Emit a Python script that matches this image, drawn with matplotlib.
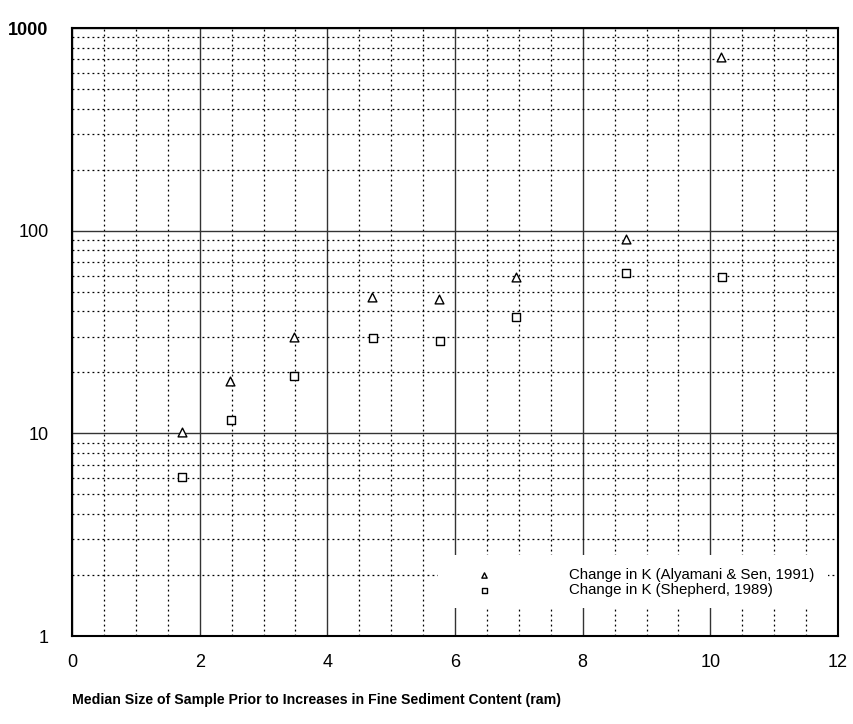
import numpy as np
import matplotlib
matplotlib.use("Agg")
import matplotlib.pyplot as plt
from matplotlib.patches import Rectangle
from matplotlib.ticker import FixedLocator, NullFormatter, LogLocator

# data
x_alyamani = [1.73, 2.48, 3.47, 4.7, 5.75, 6.95, 8.68, 10.17]
k_alyamani = [10.1, 18.2, 30.0, 47.0, 46.0, 59.0, 91.0, 720.0]

x_shepherd = [1.73, 2.49, 3.47, 4.72, 5.77, 6.95, 8.68, 10.19]
k_shepherd = [6.1, 11.6, 19.1, 29.4, 28.7, 37.3, 62.0, 59.3]

x_ticks = [0, 2, 4, 6, 8, 10, 12]
y_ticks = [1, 10, 100, 1000]
y_labels = ["1", "10", "100", "1000"]

plt.rcParams['font.family'] = ['Liberation Sans', 'DejaVu Sans']

fig = plt.figure(figsize=(8.54, 7.24), dpi=100)
ax = fig.add_axes([0.0843, 0.1215, 0.8970, 0.8398])

ax.set_yscale('log')
ax.set_xlim(0, 12)
ax.set_ylim(1, 1000)

# grid: solid majors, dotted minors
ax.xaxis.set_major_locator(FixedLocator(x_ticks))
ax.xaxis.set_minor_locator(FixedLocator(np.arange(0.5, 12, 0.5)))
ax.yaxis.set_major_locator(FixedLocator(y_ticks))
ax.yaxis.set_minor_locator(LogLocator(base=10, subs=np.arange(2, 10)))
ax.yaxis.set_minor_formatter(NullFormatter())

ax.grid(which='major', color='#333333', linewidth=1.0, linestyle='-')
ax.grid(which='minor', color='black', linewidth=0.9, linestyle=(0, (1.5, 2.5)))
ax.set_axisbelow(True)

ax.scatter(x_alyamani, k_alyamani, marker='^', s=40, facecolors='white',
           edgecolors='black', linewidths=1.0, zorder=3,
           label='Change in K (Alyamani & Sen, 1991)')
ax.scatter(x_shepherd, k_shepherd, marker='s', s=36, facecolors='white',
           edgecolors='black', linewidths=1.0, zorder=3,
           label='Change in K (Shepherd, 1989)')

ax.tick_params(which='both', length=0)
ax.tick_params(axis='x', pad=13, labelsize=13)
ax.tick_params(axis='y', pad=17, labelsize=13)
ax.set_xticklabels([str(t) for t in x_ticks])
ax.set_yticklabels(y_labels)
ax.get_yticklabels()[-1].set_fontweight('bold')

for sp in ax.spines.values():
    sp.set_linewidth(1.5)
    sp.set_color('black')

# white patch behind the legend hides the grid there
ax.add_patch(Rectangle((0.478, 0.046), 0.509, 0.087, transform=ax.transAxes,
                       facecolor='white', edgecolor='none', zorder=2))

leg = ax.legend(loc='upper left', bbox_to_anchor=(0.528, 0.112), frameon=False,
                fontsize=10.8, handlelength=1.0, handletextpad=5.2,
                labelspacing=0.08, borderpad=0, borderaxespad=0,
                markerscale=0.6)
leg.set_zorder(4)

fig.text(0.0843, 0.033, 'Median Size of Sample Prior to Increases in Fine Sediment Content (ram)',
         fontsize=10.2, fontweight='bold', ha='left', va='center')

fig.savefig('out.png', dpi=100)
